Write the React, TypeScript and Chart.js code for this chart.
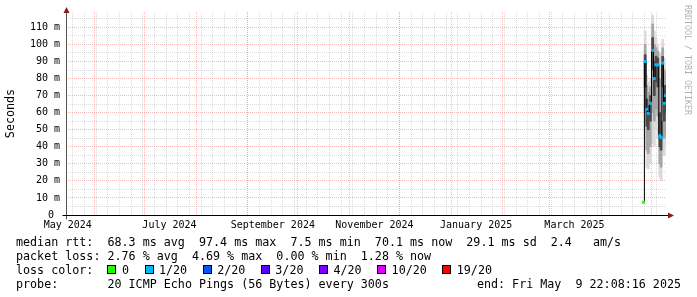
import React, { useEffect, useRef } from "react";
import { Chart, registerables } from "chart.js";

Chart.register(...registerables);

// ---------- data ----------
const END_TIME = "2025-05-09T22:08:16Z";
const RANGE_DAYS = 360;

const SAMPLE_TIMES = [
  "2025-04-26T12:00:00Z",
  "2025-04-27T10:00:00Z",
  "2025-04-28T10:00:00Z",
  "2025-04-29T07:00:00Z",
  "2025-04-30T14:00:00Z",
  "2025-05-01T22:00:00Z",
  "2025-05-02T22:00:00Z",
  "2025-05-03T22:00:00Z",
  "2025-05-05T00:00:00Z",
  "2025-05-06T05:00:00Z",
  "2025-05-07T00:00:00Z",
  "2025-05-07T22:00:00Z",
  "2025-05-08T22:00:00Z",
  "2025-05-09T14:00:00Z",
];
const MEDIAN_MS = [7.5, 90, 62, 59.5, 65.5, 96.5, 80, 88, 88, 46.5, 45.5, 89, 65.5, 70];
const LOST_PINGS = [0, 1, 1, 1, 1, 1, 1, 1, 1, 1, 1, 1, 1, 1];
const SMOKE_MIN = [7, 50, 28, 27, 30, 42, 40, 50, 45, 22, 20, 42, 35, 40];
const SMOKE_P10 = [7.2, 60, 38, 36, 40, 60, 55, 62, 58, 30, 28, 58, 45, 48];
const SMOKE_P30 = [7.4, 75, 52, 50, 55, 85, 70, 78, 75, 40, 38, 75, 55, 60];
const SMOKE_P70 = [7.6, 94, 68, 64, 70, 104, 90, 93, 92, 60, 55, 93, 75, 76];
const SMOKE_P90 = [7.8, 100, 76, 72, 75, 112, 100, 98, 96, 80, 75, 98, 85, 82];
const SMOKE_MAX = [8, 108, 82, 78, 80, 117, 108, 104, 100, 95, 88, 103, 92, 87];

const Y_TICKS = [0, 5, 10, 15, 20, 25, 30, 35, 40, 45, 50, 55, 60, 65, 70, 75, 80, 85, 90, 95, 100, 105, 110, 115];
const MONTH_LINES = [
  "2024-06-01", "2024-07-01", "2024-08-01", "2024-09-01", "2024-10-01", "2024-11-01",
  "2024-12-01", "2025-01-01", "2025-02-01", "2025-03-01", "2025-04-01", "2025-05-01",
];
const FIRST_WEEK_LINE = "2024-05-19";
const X_LABELS = ["May 2024", "July 2024", "September 2024", "November 2024", "January 2025", "March 2025"];
const X_LABEL_TIMES = ["2024-05-16", "2024-07-16", "2024-09-16", "2024-11-16", "2025-01-16", "2025-03-16"];

const LOSS_LABELS = ["0", "1/20", "2/20", "3/20", "4/20", "10/20", "19/20"];
const LOSS_COUNTS = [0, 1, 2, 3, 4, 10, 19];
const LOSS_COLORS = ["#26ff00", "#00b8ff", "#0059ff", "#5e00ff", "#7e00ff", "#dd00ff", "#ff0000"];

const LEGEND_RTT = "median rtt:  68.3 ms avg  97.4 ms max  7.5 ms min  70.1 ms now  29.1 ms sd  2.4   am/s";
const LEGEND_LOSS = "packet loss: 2.76 % avg  4.69 % max  0.00 % min  1.28 % now";
const LEGEND_COLOR = "loss color:";
const LEGEND_PROBE = "probe:       20 ICMP Echo Pings (56 Bytes) every 300s";
const LEGEND_END = "end: Fri May  9 22:08:16 2025";
const WATERMARK = "RRDTOOL / TOBI OETIKER";
const Y_TITLE = "Seconds";

// ---------- styles ----------
const MONO = '"DejaVu Sans Mono", monospace';
const MAJOR_GRID = "rgba(235,140,140,0.6)";
const MINOR_GRID = "rgba(185,185,185,0.5)";
const DAY = 86400000;

function lossColor(lost: number): string {
  let idx = 0;
  LOSS_COUNTS.forEach((c, i) => {
    if (lost >= c) idx = i;
  });
  return LOSS_COLORS[idx];
}

function buildXTicks(endMs: number) {
  const ticks: any[] = [];
  let w = Date.parse(FIRST_WEEK_LINE + "T00:00:00Z");
  while (w < endMs) {
    ticks.push({ value: w, kind: "week", lbl: "" });
    w += 7 * DAY;
  }
  MONTH_LINES.forEach((m) => ticks.push({ value: Date.parse(m + "T00:00:00Z"), kind: "month", lbl: "" }));
  X_LABEL_TIMES.forEach((t, i) =>
    ticks.push({ value: Date.parse(t + "T00:00:00Z"), kind: "label", lbl: X_LABELS[i] })
  );
  ticks.sort((a, b) => a.value - b.value);
  return ticks;
}

const decorPlugin = {
  id: "rrdDecor",
  afterDraw(chart: any) {
    const ctx: CanvasRenderingContext2D = chart.ctx;
    const { left, right, top, bottom } = chart.chartArea;
    const ax = Math.round(left) + 0.5;
    const ay = Math.round(bottom) + 0.5;
    ctx.save();
    // y axis
    ctx.lineWidth = 1;
    ctx.strokeStyle = "#555555";
    ctx.beginPath();
    ctx.moveTo(ax, ay + 4);
    ctx.lineTo(ax, top - 1);
    ctx.stroke();
    // x axis
    ctx.strokeStyle = "#000000";
    ctx.beginPath();
    ctx.moveTo(ax - 4, ay);
    ctx.lineTo(right + 3, ay);
    ctx.stroke();
    // arrows
    ctx.fillStyle = "#8b1a1a";
    ctx.beginPath();
    ctx.moveTo(ax, top - 5);
    ctx.lineTo(ax - 3, top + 1);
    ctx.lineTo(ax + 3, top + 1);
    ctx.closePath();
    ctx.fill();
    ctx.beginPath();
    ctx.moveTo(right + 8, ay);
    ctx.lineTo(right + 2, ay - 3);
    ctx.lineTo(right + 2, ay + 3);
    ctx.closePath();
    ctx.fill();

    // watermark
    ctx.save();
    ctx.translate(chart.width - 10, 5);
    ctx.rotate(Math.PI / 2);
    ctx.font = "8.3px " + MONO;
    ctx.fillStyle = "rgba(0,0,0,0.32)";
    ctx.textAlign = "left";
    ctx.textBaseline = "middle";
    ctx.fillText(WATERMARK, 0, 0);
    ctx.restore();

    // legend
    ctx.font = "11.7px " + MONO;
    ctx.fillStyle = "#000";
    ctx.textAlign = "left";
    ctx.textBaseline = "alphabetic";
    const lx = 16;
    ctx.fillText(LEGEND_RTT, lx, 246);
    ctx.fillText(LEGEND_LOSS, lx, 260);
    ctx.fillText(LEGEND_COLOR, lx, 274);
    ctx.fillText(LEGEND_PROBE, lx, 288);
    ctx.textAlign = "right";
    ctx.fillText(LEGEND_END, 681, 288);
    ctx.textAlign = "left";
    const cw = ctx.measureText("0").width;
    let bx = lx + 13 * cw;
    LOSS_LABELS.forEach((lab, i) => {
      const x0 = Math.round(bx);
      ctx.fillStyle = LOSS_COLORS[i];
      ctx.fillRect(x0, 265, 9, 9);
      ctx.strokeStyle = "#000";
      ctx.lineWidth = 1;
      ctx.strokeRect(x0 + 0.5, 265.5, 8, 8);
      ctx.fillStyle = "#000";
      const tx = bx + 14.5;
      ctx.fillText(lab, tx, 274);
      bx = tx + ctx.measureText(lab).width + 15.5;
    });
    ctx.restore();
  },
};

export default function App() {
  const ref = useRef<HTMLCanvasElement | null>(null);

  useEffect(() => {
    document.body.style.margin = "0";
    const canvas = ref.current;
    if (!canvas) return;
    const endMs = Date.parse(END_TIME);
    const startMs = endMs - RANGE_DAYS * DAY;
    const times = SAMPLE_TIMES.map((t) => Date.parse(t));
    const band = (lo: number[], hi: number[]) => times.map((x, i) => ({ x, y: [lo[i], hi[i]] }));

    const chart = new Chart(canvas, {
      type: "bar",
      data: {
        datasets: [
          {
            type: "line",
            label: "median rtt",
            data: times.map((x, i) => ({ x, y: MEDIAN_MS[i] })),
            borderColor: "#000000",
            borderWidth: 1,
            stepped: "middle",
            pointStyle: "rect",
            pointRadius: 2.1,
            pointBorderWidth: 0,
            pointBackgroundColor: LOST_PINGS.map(lossColor),
            order: 0,
          } as any,
          {
            type: "bar",
            label: "smoke inner",
            data: band(SMOKE_P30, SMOKE_P70),
            backgroundColor: "#4a4a4a",
            order: 1,
          } as any,
          {
            type: "bar",
            label: "smoke mid",
            data: band(SMOKE_P10, SMOKE_P90),
            backgroundColor: "#a6a6a6",
            order: 2,
          } as any,
          {
            type: "bar",
            label: "smoke outer",
            data: band(SMOKE_MIN, SMOKE_MAX),
            backgroundColor: "#dadada",
            order: 3,
          } as any,
        ],
      },
      options: {
        animation: false,
        responsive: false,
        devicePixelRatio: 1,
        events: [],
        layout: { padding: { left: 0, top: 12, right: 31, bottom: 0 } },
        datasets: {
          bar: { barThickness: 2, grouped: false, borderWidth: 0 } as any,
        },
        plugins: {
          legend: { display: false },
          tooltip: { enabled: false },
        },
        scales: {
          x: {
            type: "linear",
            min: startMs,
            max: endMs,
            bounds: "data",
            offset: false,
            afterBuildTicks: (s: any) => {
              s.ticks = buildXTicks(endMs);
            },
            afterFit: (s: any) => {
              s.height = 82;
            },
            ticks: {
              autoSkip: false,
              maxRotation: 0,
              minRotation: 0,
              padding: 4,
              color: "#000",
              font: { family: MONO, size: 10 },
              callback: (_v: any, i: number, ticks: any[]) => (ticks[i] && ticks[i].lbl) || "",
            },
            grid: {
              offset: false,
              drawTicks: false,
              lineWidth: 1,
              borderDash: [1, 1],
              color: (c: any) =>
                c.tick && c.tick.kind === "month"
                  ? MAJOR_GRID
                  : c.tick && c.tick.kind === "week"
                  ? MINOR_GRID
                  : "rgba(0,0,0,0)",
            } as any,
            border: { display: false, dash: [1, 1] },
          } as any,
          y: {
            type: "linear",
            min: 0,
            max: 119,
            afterBuildTicks: (s: any) => {
              s.ticks = Y_TICKS.map((v) => ({ value: v }));
            },
            afterFit: (s: any) => {
              s.width = 66;
            },
            ticks: {
              autoSkip: false,
              padding: 6,
              color: "#000",
              font: { family: MONO, size: 10 },
              callback: (v: any) => (v % 10 === 0 ? (v === 0 ? "0 " : `${v} m`) : ""),
            },
            grid: {
              drawTicks: false,
              lineWidth: 1,
              borderDash: [1, 1],
              color: (c: any) => (c.tick && c.tick.value % 10 === 0 ? MAJOR_GRID : MINOR_GRID),
            } as any,
            border: { display: false, dash: [1, 1] },
            title: {
              display: true,
              text: Y_TITLE,
              color: "#000",
              font: { family: MONO, size: 11.7 },
              padding: { top: 4, bottom: 0 },
            },
          },
        },
      },
      plugins: [decorPlugin],
    });
    return () => chart.destroy();
  }, []);

  return (
    <div style={{ width: 697, height: 297, background: "#ffffff" }}>
      <canvas ref={ref} width={697} height={297} style={{ display: "block" }} />
    </div>
  );
}
